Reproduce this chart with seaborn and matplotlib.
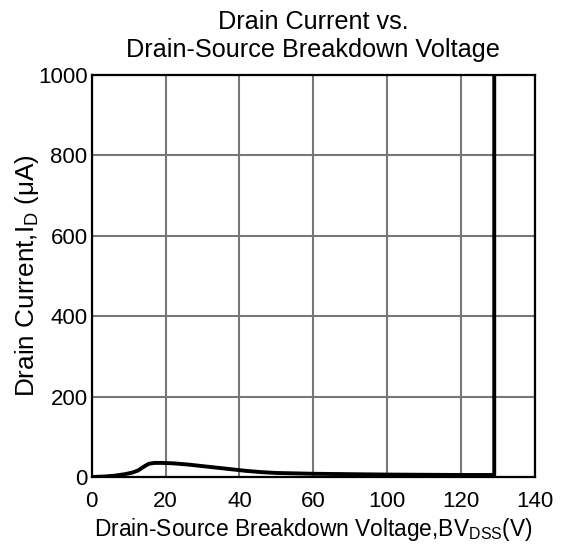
import numpy as np
import pandas as pd
import matplotlib
matplotlib.use('Agg')
import matplotlib.pyplot as plt
import seaborn as sns

# Datos (la escala del eje salta de 60 a 100)
etiquetas_x = [0, 20, 40, 60, 100, 120, 140]
posiciones_x = [0, 20, 40, 60, 80, 100, 120]
voltaje = [0, 3, 6, 9, 11, 12.5, 13.5, 14.5, 15.5, 17, 19, 22, 26, 30, 34, 38,
           42, 46, 50, 60, 100, 120, 129, 129]
corriente = [0, 1, 3, 7, 11, 16, 22, 28, 33, 35, 35, 34, 31, 27, 23, 19,
             15, 12, 10, 8, 6, 5, 5, 1000]
ticks_y = [0, 200, 400, 600, 800, 1000]

sns.set_style('white')
plt.rcParams['font.family'] = ['Liberation Sans', 'DejaVu Sans']
plt.rcParams['mathtext.fontset'] = 'custom'
plt.rcParams['mathtext.rm'] = 'Liberation Sans'
plt.rcParams['text.color'] = 'black'
plt.rcParams['axes.labelcolor'] = 'black'
plt.rcParams['xtick.color'] = 'black'
plt.rcParams['ytick.color'] = 'black'

datos = pd.DataFrame({
    'x': np.interp(voltaje, etiquetas_x, posiciones_x),
    'I': corriente,
})

fig = plt.figure(figsize=(5.63, 5.47), dpi=100)
ax = fig.add_axes([0.163, 0.128, 0.787, 0.735])

sns.lineplot(x='x', y='I', data=datos, sort=False, estimator=None,
             color='black', linewidth=2.8, ax=ax, zorder=3)

ax.set_xlim(0, 120)
ax.set_ylim(0, 1000)
ax.set_xticks(posiciones_x)
ax.set_xticklabels([str(v) for v in etiquetas_x])
ax.set_yticks(ticks_y)
ax.grid(True, color='#777777', linewidth=1.5)
ax.set_axisbelow(True)
for s in ax.spines.values():
    s.set_color('black')
    s.set_linewidth(1.6)
ax.tick_params(axis='x', length=0, labelsize=16, pad=10)
ax.tick_params(axis='y', length=0, labelsize=16, pad=3)

ax.set_title('Drain Current vs.\nDrain-Source Breakdown Voltage', fontsize=18.2, pad=13)
ax.set_xlabel(r'Drain-Source Breakdown Voltage,BV$_{\mathregular{DSS}}$(V)', fontsize=16.4, labelpad=3)
ax.set_ylabel(r'Drain Current,I$_{\mathregular{D}}$ ($\mathregular{\mu}$A)', fontsize=18.8, labelpad=-2)

plt.savefig('out.png', dpi=100)
